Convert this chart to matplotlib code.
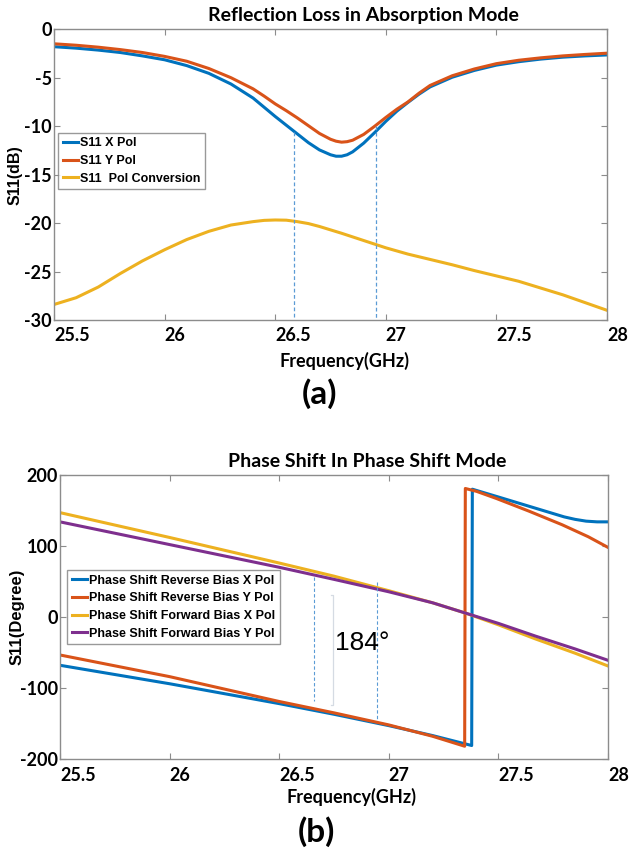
import numpy as np
import matplotlib
matplotlib.use('Agg')
import matplotlib.pyplot as plt

# ---- (a) reflection loss, dB ----
freq_a = [25.5, 25.6, 25.7, 25.8, 25.9, 26.0, 26.1, 26.2, 26.3, 26.4, 26.45, 26.5, 26.55,
          26.6, 26.65, 26.7, 26.75, 26.775, 26.8, 26.825, 26.85, 26.9, 26.95, 27.0, 27.05,
          27.1, 27.15, 27.2, 27.3, 27.4, 27.5, 27.6, 27.7, 27.8, 27.9, 28.0]
s11_x = [-1.8, -1.95, -2.15, -2.4, -2.75, -3.15, -3.75, -4.55, -5.65, -7.1, -8.05, -9.0, -9.9,
         -10.8, -11.7, -12.45, -12.95, -13.1, -13.1, -12.95, -12.65, -11.75, -10.65, -9.5, -8.45,
         -7.55, -6.7, -5.95, -4.95, -4.25, -3.7, -3.35, -3.08, -2.88, -2.75, -2.65]
s11_y = [-1.5, -1.65, -1.85, -2.1, -2.4, -2.8, -3.3, -4.05, -5.0, -6.15, -6.9, -7.7, -8.4,
         -9.15, -9.95, -10.75, -11.35, -11.55, -11.65, -11.6, -11.45, -10.85, -10.0, -9.1, -8.25,
         -7.5, -6.6, -5.8, -4.8, -4.1, -3.55, -3.2, -2.95, -2.75, -2.6, -2.47]
freq_conv = [25.5, 25.6, 25.7, 25.8, 25.9, 26.0, 26.1, 26.2, 26.3, 26.4, 26.45, 26.5, 26.55,
             26.6, 26.65, 26.7, 26.8, 26.9, 27.0, 27.1, 27.2, 27.3, 27.4, 27.5, 27.6, 27.7,
             27.8, 27.9, 28.0]
s11_conv = [-28.4, -27.7, -26.6, -25.2, -23.9, -22.75, -21.7, -20.85, -20.2, -19.85, -19.72,
            -19.68, -19.7, -19.85, -20.05, -20.35, -21.05, -21.8, -22.55, -23.2, -23.75, -24.3,
            -24.9, -25.45, -26.0, -26.7, -27.4, -28.2, -29.0]
# marker lines (GHz, top dB)
mark_a_f = [26.583, 26.954]
mark_a_top = [-10.6, -10.0]

# ---- (b) phase, degree ----
freq_rx = [25.5, 26.0, 26.5, 26.75, 27.0, 27.2, 27.378, 27.381, 27.5, 27.65, 27.8, 27.85,
           27.9, 27.95, 28.0]
ph_rx = [-68, -94, -122, -137, -153, -167, -181, 180, 169, 155, 141, 137.5, 135, 134, 134]
freq_ry = [25.5, 26.0, 26.5, 26.75, 27.0, 27.2, 27.346, 27.349, 27.4, 27.49, 27.64, 27.79,
           27.91, 28.0]
ph_ry = [-53.5, -84, -119, -135, -152, -168, -182, 181, 177, 167, 149, 130, 113, 98]
freq_f = [25.5, 26.0, 26.5, 26.75, 27.0, 27.2, 27.35, 27.5, 27.67, 27.85, 28.0]
ph_fx = [147, 112, 76, 57.5, 37, 20, 5.5, -11, -31, -51, -69]
ph_fy = [134, 102, 70, 53, 35.5, 20, 5.5, -9, -27, -45, -61]
mark_b_f = [26.659, 26.948]
mark_b_top = [57, 50]
mark_b_bot = [-119, -145]

blue = '#0072BD'
orange = '#D95319'
yellow = '#EDB120'
purple = '#7E2F8E'
dash_c = '#5B9BD5'
frame_c = '#8c8c8c'

fig = plt.figure(figsize=(6.31, 8.63), dpi=100)


def style_axes(ax):
    for sp in ax.spines.values():
        sp.set_color(frame_c)
        sp.set_linewidth(1.0)
    ax.tick_params(direction='in', top=True, right=True, length=4, color=frame_c, width=0.8)
    ax.tick_params(axis='x', pad=5)
    ax.tick_params(axis='y', pad=1.5)
    for lab in ax.get_xticklabels() + ax.get_yticklabels():
        lab.set_fontfamily('Lato')
        lab.set_fontweight('bold')
        lab.set_fontsize(13)
    for lab in ax.get_xticklabels():
        lab.set_horizontalalignment('left')


# ---------- (a) ----------
ax1 = fig.add_axes([0.0856, 0.6292, 0.8764, 0.3369])
ax1.plot(freq_a, s11_x, color=blue, lw=2.2, label='S11 X Pol')
ax1.plot(freq_a, s11_y, color=orange, lw=2.2, label='S11 Y Pol')
ax1.plot(freq_conv, s11_conv, color=yellow, lw=2.2, label='S11  Pol Conversion')
for f, t in zip(mark_a_f, mark_a_top):
    ax1.plot([f, f], [t, -30], color=dash_c, lw=0.9, ls=(0, (3, 2)))
ax1.set_xlim(25.5, 28)
ax1.set_ylim(-30, 0)
ax1.set_xticks([25.5, 26, 26.5, 27, 27.5, 28])
ax1.set_xticklabels(['25.5', '26', '26.5', '27', '27.5', '28'])
ax1.set_yticks([0, -5, -10, -15, -20, -25, -30])
ax1.set_yticklabels(['0', '-5', '-10', '-15', '-20', '-25', '-30'])
style_axes(ax1)
ax1.set_title('Reflection Loss in Absorption Mode', x=0.56, pad=6,
              fontfamily='Lato', fontweight='bold', fontsize=14)
ax1.set_xlabel('Frequency(GHz)', fontfamily='Lato', fontweight='bold', fontsize=13)
ax1.xaxis.set_label_coords(0.526, -0.141)
ax1.xaxis.label.set_va('center')
ax1.set_ylabel('S11(dB)', fontfamily='Liberation Sans', fontweight='bold', fontsize=11.5)
ax1.yaxis.set_label_coords(-0.0714, 0.5)
ax1.yaxis.label.set_va('center')
leg1 = ax1.legend(loc='upper left', bbox_to_anchor=(0.008, 0.643), frameon=True, fancybox=False,
                  prop=dict(family='Liberation Sans', weight='bold', size=9),
                  handlelength=1.2, handletextpad=0.2, borderpad=0.35, labelspacing=0.45,
                  borderaxespad=0)
leg1.get_frame().set_edgecolor('#808080')
leg1.get_frame().set_linewidth(1.0)

fig.text(0.507, 0.5435, '(a)', ha='center', va='center',
         fontfamily='Lato', fontweight='bold', fontsize=24)

# ---------- (b) ----------
ax2 = fig.add_axes([0.0951, 0.1205, 0.8685, 0.3291])
ax2.plot(freq_rx, ph_rx, color=blue, lw=2.2, label='Phase Shift Reverse Bias X Pol')
ax2.plot(freq_ry, ph_ry, color=orange, lw=2.2, label='Phase Shift Reverse Bias Y Pol')
ax2.plot(freq_f, ph_fx, color=yellow, lw=2.2, label='Phase Shift Forward Bias X Pol')
ax2.plot(freq_f, ph_fy, color=purple, lw=2.2, label='Phase Shift Forward Bias Y Pol')
for f, t, b in zip(mark_b_f, mark_b_top, mark_b_bot):
    ax2.plot([f, f], [t, b], color=dash_c, lw=0.8, ls=(0, (3, 2)))
# light bracket for the 184 degree span
ax2.plot([26.735, 26.747, 26.747, 26.735], [31, 31, -124, -124], color='#d5dbe3', lw=0.9)
ax2.text(26.755, -46.5, '184°', fontfamily='Liberation Sans', fontsize=19,
         ha='left', va='baseline')
ax2.set_xlim(25.5, 28)
ax2.set_ylim(-200, 200)
ax2.set_xticks([25.5, 26, 26.5, 27, 27.5, 28])
ax2.set_xticklabels(['25.5', '26', '26.5', '27', '27.5', '28'])
ax2.set_yticks([200, 100, 0, -100, -200])
ax2.set_yticklabels(['200', '100', '0', '-100', '-200'])
style_axes(ax2)
ax2.tick_params(axis='x', pad=6)
ax2.set_title('Phase Shift In Phase Shift Mode', x=0.56, pad=6,
              fontfamily='Lato', fontweight='bold', fontsize=14)
ax2.set_xlabel('Frequency(GHz)', fontfamily='Lato', fontweight='bold', fontsize=13)
ax2.xaxis.set_label_coords(0.531, -0.134)
ax2.xaxis.label.set_va('center')
ax2.set_ylabel('S11(Degree)', fontfamily='Liberation Sans', fontweight='bold', fontsize=12)
ax2.yaxis.set_label_coords(-0.078, 0.5)
ax2.yaxis.label.set_va('center')
leg2 = ax2.legend(loc='upper left', bbox_to_anchor=(0.013, 0.664), frameon=True, fancybox=False,
                  prop=dict(family='Liberation Sans', weight='bold', size=9),
                  handlelength=1.2, handletextpad=0.2, borderpad=0.35, labelspacing=0.45,
                  borderaxespad=0)
leg2.get_frame().set_edgecolor('#808080')
leg2.get_frame().set_linewidth(1.0)

fig.text(0.502, 0.036, '(b)', ha='center', va='center',
         fontfamily='Lato', fontweight='bold', fontsize=24)

fig.savefig('out.png', dpi=100)
